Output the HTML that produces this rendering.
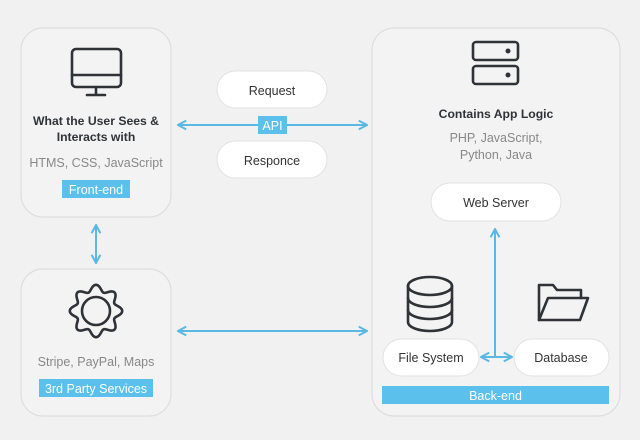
<!DOCTYPE html>
<html><head><meta charset="utf-8"><style>
html,body{margin:0;padding:0;background:#f1f1f1;}
svg{display:block;font-family:"Liberation Sans",sans-serif;}
</style></head><body>
<svg width="640" height="440" viewBox="0 0 640 440" xmlns="http://www.w3.org/2000/svg">
<defs>
<marker id="a" viewBox="0 0 10 10" refX="9" refY="5" markerWidth="11" markerHeight="11" orient="auto-start-reverse" markerUnits="userSpaceOnUse">
<path d="M1.5,1 L9,5 L1.5,9" fill="none" stroke="#5bb8e4" stroke-width="1.8"/>
</marker>
</defs>
<rect width="640" height="440" fill="#f1f1f1"/>
<g fill="#f3f3f3" stroke="#dedede" stroke-width="1.2">
<rect x="21" y="28" width="150" height="189" rx="22"/>
<rect x="21" y="269" width="150" height="147" rx="22"/>
<rect x="372" y="28" width="248" height="388" rx="22"/>
</g>
<g fill="#fff" stroke="#e2e2e2" stroke-width="1">
<rect x="217" y="71" width="110" height="37" rx="18.5"/>
<rect x="217" y="141" width="110" height="37" rx="18.5"/>
<rect x="431" y="183" width="130" height="38" rx="19"/>
<rect x="383" y="339" width="96" height="37" rx="18.5"/>
<rect x="514" y="339" width="95" height="37" rx="18.5"/>
</g>
<g stroke="#5bb8e4" stroke-width="2" fill="none">
<line x1="178" y1="125" x2="367" y2="125" marker-start="url(#a)" marker-end="url(#a)"/>
<line x1="178" y1="331" x2="367" y2="331" marker-start="url(#a)" marker-end="url(#a)"/>
<line x1="96" y1="225" x2="96" y2="263" marker-start="url(#a)" marker-end="url(#a)"/>
<line x1="495" y1="229" x2="495" y2="357"/>
<line x1="481" y1="357" x2="512" y2="357" marker-start="url(#a)" marker-end="url(#a)"/>
<line x1="495" y1="229" x2="495" y2="232" marker-start="url(#a)"/>
</g>
<g fill="#5bc0eb">
<rect x="258" y="116" width="29" height="18"/>
<rect x="62" y="180" width="68" height="18"/>
<rect x="39" y="379" width="114" height="18"/>
<rect x="382" y="386" width="227" height="18"/>
</g>
<g fill="#fff" font-size="12.5" text-anchor="middle">
<text x="272.5" y="130">API</text>
<text x="96" y="194">Front-end</text>
<text x="96" y="393">3rd Party Services</text>
<text x="495.5" y="400">Back-end</text>
</g>
<g fill="#333" font-size="12.5" text-anchor="middle">
<text x="272" y="95">Request</text>
<text x="272" y="165">Responce</text>
<text x="496" y="207">Web Server</text>
<text x="431" y="362">File System</text>
<text x="561" y="362">Database</text>
</g>
<g fill="#2f3338" font-size="12.2" font-weight="bold" text-anchor="middle">
<text x="96" y="125">What the User Sees &amp;</text>
<text x="96" y="141">Interacts with</text>
<text x="496" y="118">Contains App Logic</text>
</g>
<g fill="#888" font-size="12.5" text-anchor="middle">
<text x="96" y="167">HTMS, CSS, JavaScript</text>
<text x="496" y="142">PHP, JavaScript,</text>
<text x="496" y="159">Python, Java</text>
<text x="96" y="366">Stripe, PayPal, Maps</text>
</g>
<g fill="none" stroke="#2f3338" stroke-width="2.6" stroke-linecap="round" stroke-linejoin="round">
<rect x="72" y="49" width="49" height="38" rx="4"/>
<line x1="72" y1="75" x2="121" y2="75"/>
<line x1="96" y1="87" x2="96" y2="94"/>
<line x1="87" y1="95" x2="105" y2="95"/>
<rect x="473" y="42" width="45" height="18" rx="3"/>
<rect x="473" y="66" width="45" height="18" rx="3"/>
<path id="gear" d=""/>
<circle cx="96" cy="311" r="14"/>
<ellipse cx="430" cy="286" rx="22" ry="9"/>
<path d="M408,286 V322 A22,9 0 0 0 452,322 V286"/>
<path d="M408,298 A22,9 0 0 0 452,298 M408,310 A22,9 0 0 0 452,310"/>
<path d="M539,320 V285 H553 L557,290 H581 V298"/>
<path d="M539,320 L548,298 H588 L580,320 Z"/>
</g>
<g fill="#2f3338">
<circle cx="508" cy="51" r="2.5"/>
<circle cx="508" cy="75" r="2.5"/>
</g>
</svg>
<script>
(function(){var d="",cx=96,cy=311,n=200;for(var i=0;i<=n;i++){var t=i/n*2*Math.PI;var r=23+3.2*Math.cos(8*t);d+=(i?"L":"M")+(cx+r*Math.cos(t)).toFixed(2)+","+(cy+r*Math.sin(t)).toFixed(2);}document.getElementById("gear").setAttribute("d",d+"Z");})();
</script>
</body></html>
